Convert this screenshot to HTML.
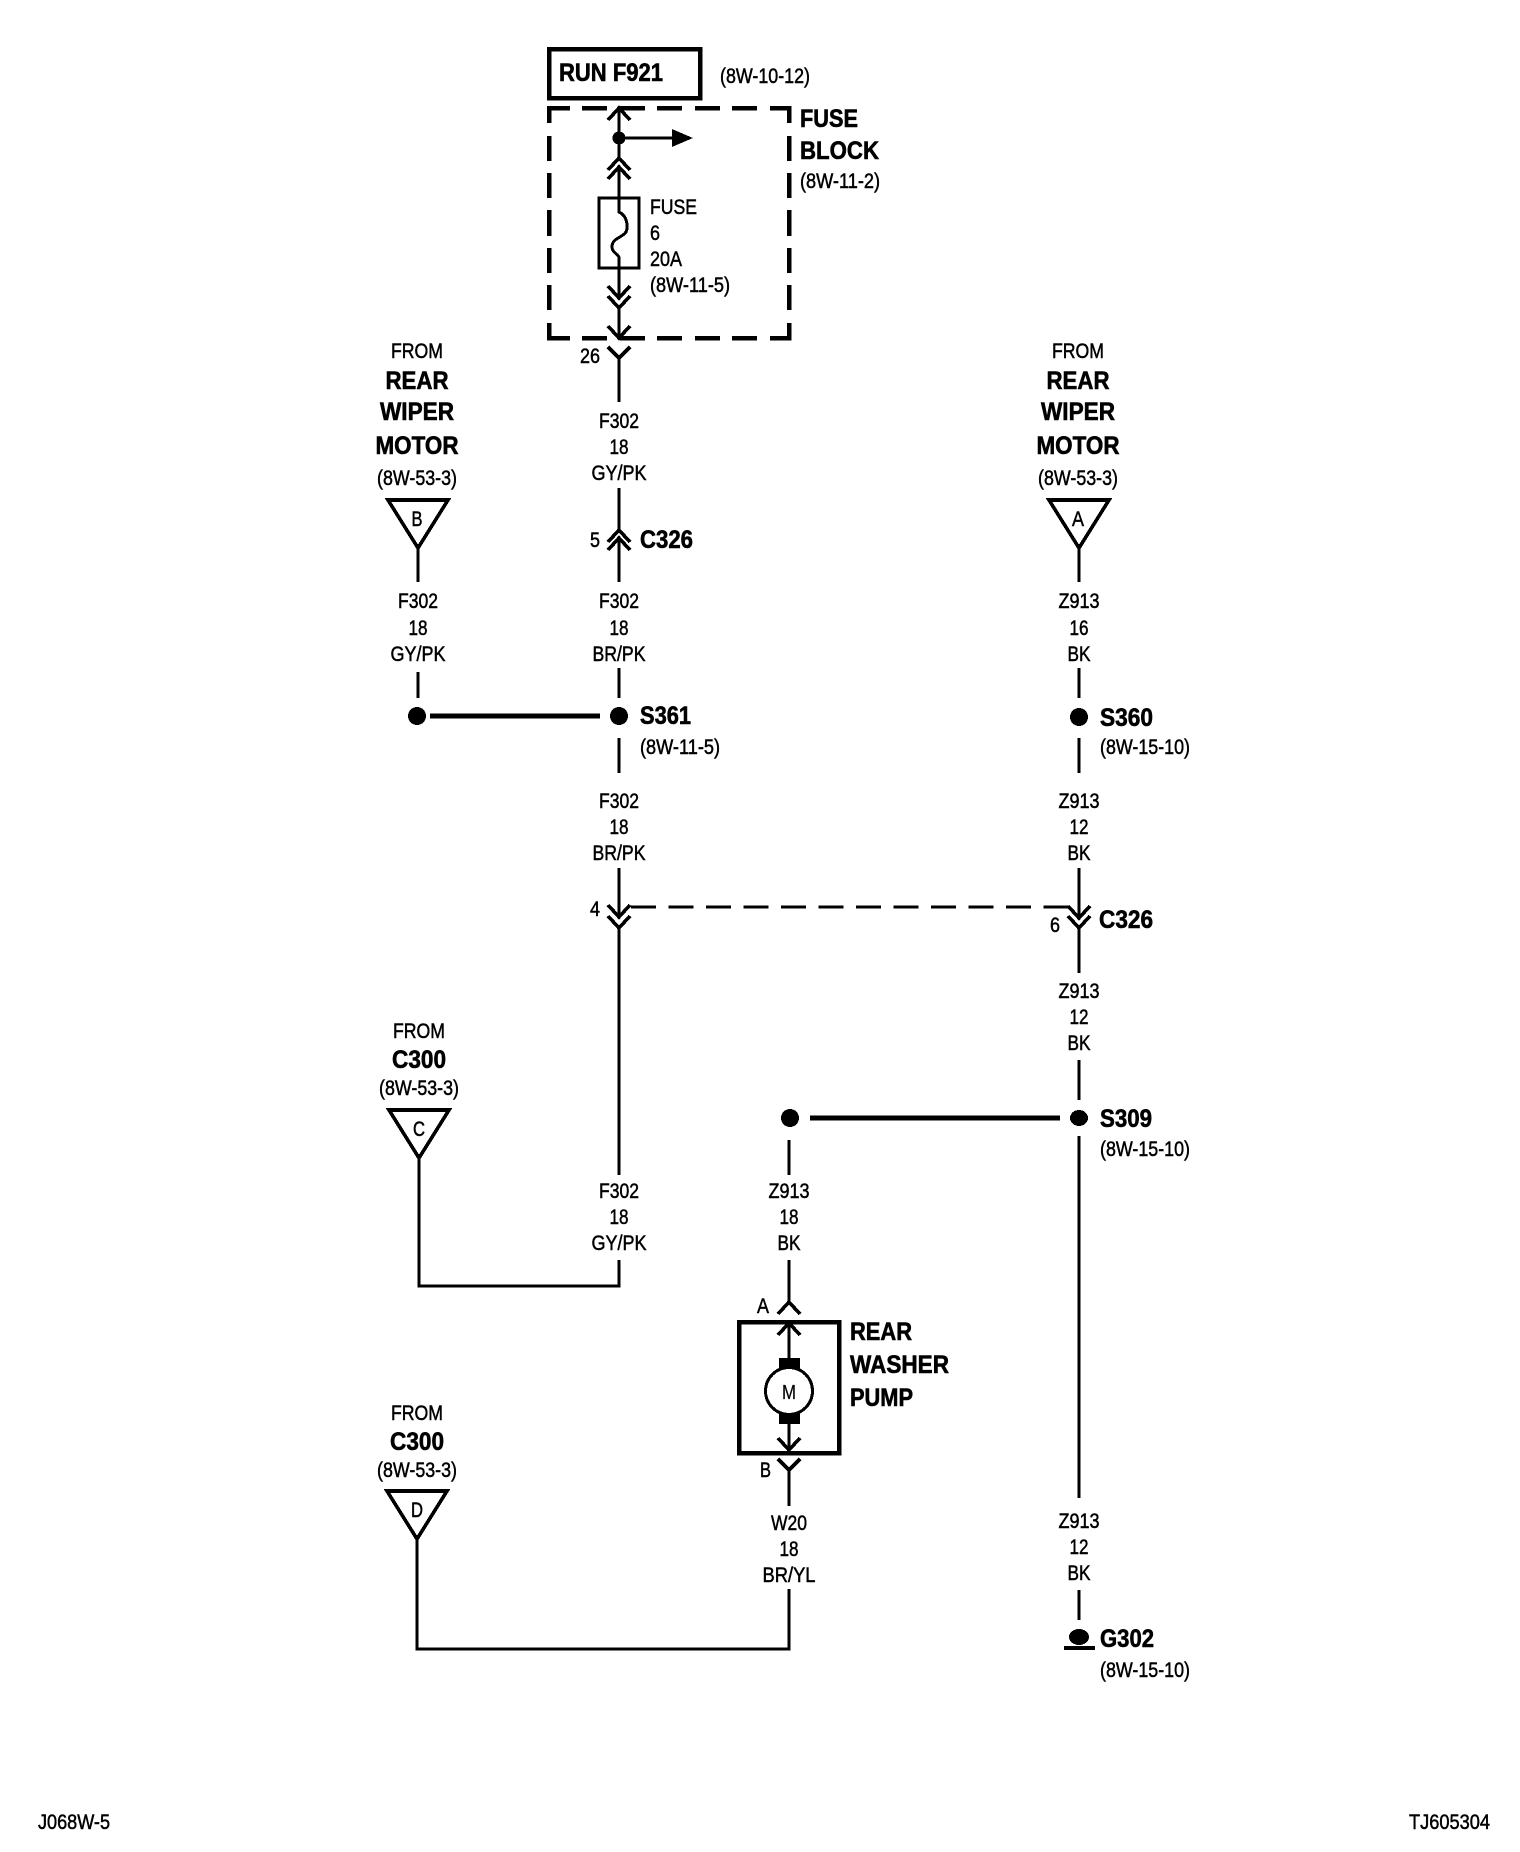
<!DOCTYPE html>
<html><head><meta charset="utf-8"><style>
html,body{margin:0;padding:0;background:#fff}
svg{display:block}
text{fill:#000;font-family:"Liberation Sans",Arial,sans-serif}
.r{font-size:21px;stroke:#000;stroke-width:.5}
.b{font-size:25px;font-weight:bold;stroke:#000;stroke-width:.6}
.m{text-anchor:middle}
.l{fill:none;stroke:#000;stroke-width:3}
.c{fill:none;stroke:#000;stroke-width:3.6}
.t{fill:none;stroke:#000;stroke-width:4.5}
</style></head><body>
<svg xmlns="http://www.w3.org/2000/svg" width="1520" height="1852" viewBox="0 0 1520 1852">
<rect width="1520" height="1852" fill="#fff"/>
<g shape-rendering="crispEdges">
<rect x="549" y="49" width="151" height="49" class="t"/>
<path class="t" d="M549 123V108H570M582 108H607M620 108H645M657 108H682M695 108H720M732 108H757M770 108H789V123M549 136V161M549 173V198M549 210V236M549 248V273M549 285V310M549 323V338H570M582 338H607M620 338H645M657 338H682M695 338H720M732 338H757M770 338H789V323M789 136V161M789 173V198M789 210V236M789 248V273M789 285V310"/>
<rect x="599" y="198" width="40" height="70" class="l"/>
<path class="l" d="M619 108V158M619 167V212C628 216 628 228 626 232C622 238 612 238 612 247C612 253 619 254 619 258V298M619 308V338"/>
<path class="c" d="M608 120L619 108L630 120M608 170L619 158L630 170M608 179L619 167L630 179M608 286L619 298L630 286M608 296L619 308L630 296M608 326L619 338L630 326M608 347L619 358L630 347"/>
<path class="l" d="M619 358V402"/>
<path class="l" d="M619 138H675"/>
<path d="M672 129L693 138L672 147Z"/>
<circle cx="619" cy="138" r="6.5"/>

<path class="l" d="M619 488V530M619 538V582"/>
<path class="c" d="M608 542L619 530L630 542M608 550L619 538L630 550"/>
<path class="l" d="M619 668V698M619 738V773"/>
<circle cx="619" cy="716" r="9"/><circle cx="417" cy="716" r="9"/>
<path class="l" style="stroke-width:5" d="M430 716H600"/>
<path class="l" d="M418 548V582M418 672V698"/>
<path class="c" d="M388 500H448L418 548Z"/>

<path class="c" d="M1049 500H1109L1079 548Z"/>
<path class="l" d="M1079 548V582M1079 668V698M1079 738V773"/>
<circle cx="1079" cy="717" r="9"/>

<path class="l" d="M619 868V917M619 928V1175M619 1260V1286H419V1159"/>
<path class="c" d="M608 905L619 917L630 905M608 916L619 928L630 916"/>
<path class="l" stroke-dasharray="25 12.5" d="M631 907H1069"/>
<path class="l" d="M1079 868V918M1079 928V973"/>
<path class="c" d="M1068 906L1079 918L1090 906M1068 916L1079 928L1090 916"/>
<path class="l" d="M1079 1060V1100M1079 1136V1498M1079 1590V1620"/>
<ellipse cx="1079" cy="1118" rx="9" ry="8"/>
<circle cx="790" cy="1118" r="9"/>
<path class="l" style="stroke-width:5" d="M810 1118H1060"/>
<ellipse cx="1079" cy="1637" rx="10" ry="8"/>
<path class="l" style="stroke-width:4" d="M1064 1648H1095"/>

<path class="c" d="M389 1110H449L419 1158Z"/>
<path class="c" d="M387 1491H447L417 1539Z"/>
<path class="l" d="M417 1539V1649H789V1589"/>

<path class="l" d="M789 1140V1175M789 1260V1302"/>
<path class="c" d="M778 1314L789 1302L800 1314"/>
<rect x="739" y="1322" width="100" height="131" class="t"/>
<path class="l" d="M789 1323V1358M789 1424V1450M789 1470V1506"/>
<path class="c" d="M778 1335L789 1323L800 1335M778 1438L789 1450L800 1438M778 1459L789 1470L800 1459"/>
<rect x="779" y="1358" width="21" height="11"/>
<rect x="779" y="1413" width="21" height="11"/>
<circle cx="789" cy="1391" r="23.5" fill="#fff" stroke="#000" stroke-width="3"/>
</g>

<text class="b" x="559" y="81" textLength="104" lengthAdjust="spacingAndGlyphs">RUN F921</text>
<text class="r" x="720" y="83" textLength="90" lengthAdjust="spacingAndGlyphs">(8W-10-12)</text>
<text class="b" x="800" y="127" textLength="58" lengthAdjust="spacingAndGlyphs">FUSE</text>
<text class="b" x="800" y="159" textLength="79" lengthAdjust="spacingAndGlyphs">BLOCK</text>
<text class="r" x="800" y="188" textLength="80" lengthAdjust="spacingAndGlyphs">(8W-11-2)</text>
<text class="r" x="650" y="214" textLength="47" lengthAdjust="spacingAndGlyphs">FUSE</text>
<text class="r" x="650" y="240" textLength="10" lengthAdjust="spacingAndGlyphs">6</text>
<text class="r" x="650" y="266" textLength="32" lengthAdjust="spacingAndGlyphs">20A</text>
<text class="r" x="650" y="292" textLength="80" lengthAdjust="spacingAndGlyphs">(8W-11-5)</text>
<text class="r" x="580" y="363" textLength="20" lengthAdjust="spacingAndGlyphs">26</text>

<text class="r m" x="619" y="428" textLength="40" lengthAdjust="spacingAndGlyphs">F302</text>
<text class="r m" x="619" y="454" textLength="19" lengthAdjust="spacingAndGlyphs">18</text>
<text class="r m" x="619" y="480" textLength="55" lengthAdjust="spacingAndGlyphs">GY/PK</text>
<text class="r" x="590" y="547" textLength="10" lengthAdjust="spacingAndGlyphs">5</text>
<text class="b" x="640" y="548" textLength="53" lengthAdjust="spacingAndGlyphs">C326</text>
<text class="r m" x="619" y="608" textLength="40" lengthAdjust="spacingAndGlyphs">F302</text>
<text class="r m" x="619" y="635" textLength="19" lengthAdjust="spacingAndGlyphs">18</text>
<text class="r m" x="619" y="661" textLength="53" lengthAdjust="spacingAndGlyphs">BR/PK</text>
<text class="b" x="640" y="724" textLength="51" lengthAdjust="spacingAndGlyphs">S361</text>
<text class="r" x="640" y="754" textLength="80" lengthAdjust="spacingAndGlyphs">(8W-11-5)</text>
<text class="r m" x="619" y="808" textLength="40" lengthAdjust="spacingAndGlyphs">F302</text>
<text class="r m" x="619" y="834" textLength="19" lengthAdjust="spacingAndGlyphs">18</text>
<text class="r m" x="619" y="860" textLength="53" lengthAdjust="spacingAndGlyphs">BR/PK</text>
<text class="r" x="590" y="916" textLength="10" lengthAdjust="spacingAndGlyphs">4</text>

<text class="r m" x="417" y="358" textLength="52" lengthAdjust="spacingAndGlyphs">FROM</text>
<text class="b m" x="417" y="389" textLength="63" lengthAdjust="spacingAndGlyphs">REAR</text>
<text class="b m" x="417" y="420" textLength="74" lengthAdjust="spacingAndGlyphs">WIPER</text>
<text class="b m" x="417" y="454" textLength="83" lengthAdjust="spacingAndGlyphs">MOTOR</text>
<text class="r m" x="417" y="485" textLength="80" lengthAdjust="spacingAndGlyphs">(8W-53-3)</text>
<text class="r m" x="417" y="526" textLength="11" lengthAdjust="spacingAndGlyphs">B</text>
<text class="r m" x="418" y="608" textLength="40" lengthAdjust="spacingAndGlyphs">F302</text>
<text class="r m" x="418" y="635" textLength="19" lengthAdjust="spacingAndGlyphs">18</text>
<text class="r m" x="418" y="661" textLength="55" lengthAdjust="spacingAndGlyphs">GY/PK</text>

<text class="r m" x="1078" y="358" textLength="52" lengthAdjust="spacingAndGlyphs">FROM</text>
<text class="b m" x="1078" y="389" textLength="63" lengthAdjust="spacingAndGlyphs">REAR</text>
<text class="b m" x="1078" y="420" textLength="74" lengthAdjust="spacingAndGlyphs">WIPER</text>
<text class="b m" x="1078" y="454" textLength="83" lengthAdjust="spacingAndGlyphs">MOTOR</text>
<text class="r m" x="1078" y="485" textLength="80" lengthAdjust="spacingAndGlyphs">(8W-53-3)</text>
<text class="r m" x="1078" y="526" textLength="12" lengthAdjust="spacingAndGlyphs">A</text>
<text class="r m" x="1079" y="608" textLength="41" lengthAdjust="spacingAndGlyphs">Z913</text>
<text class="r m" x="1079" y="635" textLength="19" lengthAdjust="spacingAndGlyphs">16</text>
<text class="r m" x="1079" y="661" textLength="23" lengthAdjust="spacingAndGlyphs">BK</text>
<text class="b" x="1100" y="726" textLength="53" lengthAdjust="spacingAndGlyphs">S360</text>
<text class="r" x="1100" y="754" textLength="90" lengthAdjust="spacingAndGlyphs">(8W-15-10)</text>
<text class="r m" x="1079" y="808" textLength="41" lengthAdjust="spacingAndGlyphs">Z913</text>
<text class="r m" x="1079" y="834" textLength="19" lengthAdjust="spacingAndGlyphs">12</text>
<text class="r m" x="1079" y="860" textLength="23" lengthAdjust="spacingAndGlyphs">BK</text>
<text class="r" x="1050" y="932" textLength="10" lengthAdjust="spacingAndGlyphs">6</text>
<text class="b" x="1099" y="928" textLength="54" lengthAdjust="spacingAndGlyphs">C326</text>
<text class="r m" x="1079" y="998" textLength="41" lengthAdjust="spacingAndGlyphs">Z913</text>
<text class="r m" x="1079" y="1024" textLength="19" lengthAdjust="spacingAndGlyphs">12</text>
<text class="r m" x="1079" y="1050" textLength="23" lengthAdjust="spacingAndGlyphs">BK</text>
<text class="b" x="1100" y="1127" textLength="52" lengthAdjust="spacingAndGlyphs">S309</text>
<text class="r" x="1100" y="1156" textLength="90" lengthAdjust="spacingAndGlyphs">(8W-15-10)</text>
<text class="r m" x="1079" y="1528" textLength="41" lengthAdjust="spacingAndGlyphs">Z913</text>
<text class="r m" x="1079" y="1554" textLength="19" lengthAdjust="spacingAndGlyphs">12</text>
<text class="r m" x="1079" y="1580" textLength="23" lengthAdjust="spacingAndGlyphs">BK</text>
<text class="b" x="1100" y="1647" textLength="54" lengthAdjust="spacingAndGlyphs">G302</text>
<text class="r" x="1100" y="1677" textLength="90" lengthAdjust="spacingAndGlyphs">(8W-15-10)</text>

<text class="r m" x="419" y="1038" textLength="52" lengthAdjust="spacingAndGlyphs">FROM</text>
<text class="b m" x="419" y="1068" textLength="54" lengthAdjust="spacingAndGlyphs">C300</text>
<text class="r m" x="419" y="1095" textLength="80" lengthAdjust="spacingAndGlyphs">(8W-53-3)</text>
<text class="r m" x="419" y="1136" textLength="12" lengthAdjust="spacingAndGlyphs">C</text>
<text class="r m" x="619" y="1198" textLength="40" lengthAdjust="spacingAndGlyphs">F302</text>
<text class="r m" x="619" y="1224" textLength="19" lengthAdjust="spacingAndGlyphs">18</text>
<text class="r m" x="619" y="1250" textLength="55" lengthAdjust="spacingAndGlyphs">GY/PK</text>

<text class="r m" x="417" y="1420" textLength="52" lengthAdjust="spacingAndGlyphs">FROM</text>
<text class="b m" x="417" y="1450" textLength="54" lengthAdjust="spacingAndGlyphs">C300</text>
<text class="r m" x="417" y="1477" textLength="80" lengthAdjust="spacingAndGlyphs">(8W-53-3)</text>
<text class="r m" x="417" y="1517" textLength="12" lengthAdjust="spacingAndGlyphs">D</text>

<text class="r m" x="789" y="1198" textLength="41" lengthAdjust="spacingAndGlyphs">Z913</text>
<text class="r m" x="789" y="1224" textLength="19" lengthAdjust="spacingAndGlyphs">18</text>
<text class="r m" x="789" y="1250" textLength="23" lengthAdjust="spacingAndGlyphs">BK</text>
<text class="r" x="757" y="1313" textLength="12" lengthAdjust="spacingAndGlyphs">A</text>
<text class="r" x="760" y="1477" textLength="11" lengthAdjust="spacingAndGlyphs">B</text>
<text class="r m" x="789" y="1399" style="font-size:20px;stroke-width:.2" textLength="14" lengthAdjust="spacingAndGlyphs">M</text>
<text class="b" x="850" y="1340" textLength="62" lengthAdjust="spacingAndGlyphs">REAR</text>
<text class="b" x="850" y="1373" textLength="99" lengthAdjust="spacingAndGlyphs">WASHER</text>
<text class="b" x="850" y="1406" textLength="63" lengthAdjust="spacingAndGlyphs">PUMP</text>
<text class="r m" x="789" y="1530" textLength="36" lengthAdjust="spacingAndGlyphs">W20</text>
<text class="r m" x="789" y="1556" textLength="19" lengthAdjust="spacingAndGlyphs">18</text>
<text class="r m" x="789" y="1582" textLength="53" lengthAdjust="spacingAndGlyphs">BR/YL</text>

<text class="r" x="38" y="1829" textLength="72" lengthAdjust="spacingAndGlyphs">J068W-5</text>
<text class="r" x="1409" y="1829" textLength="81" lengthAdjust="spacingAndGlyphs">TJ605304</text>
</svg>
</body></html>
